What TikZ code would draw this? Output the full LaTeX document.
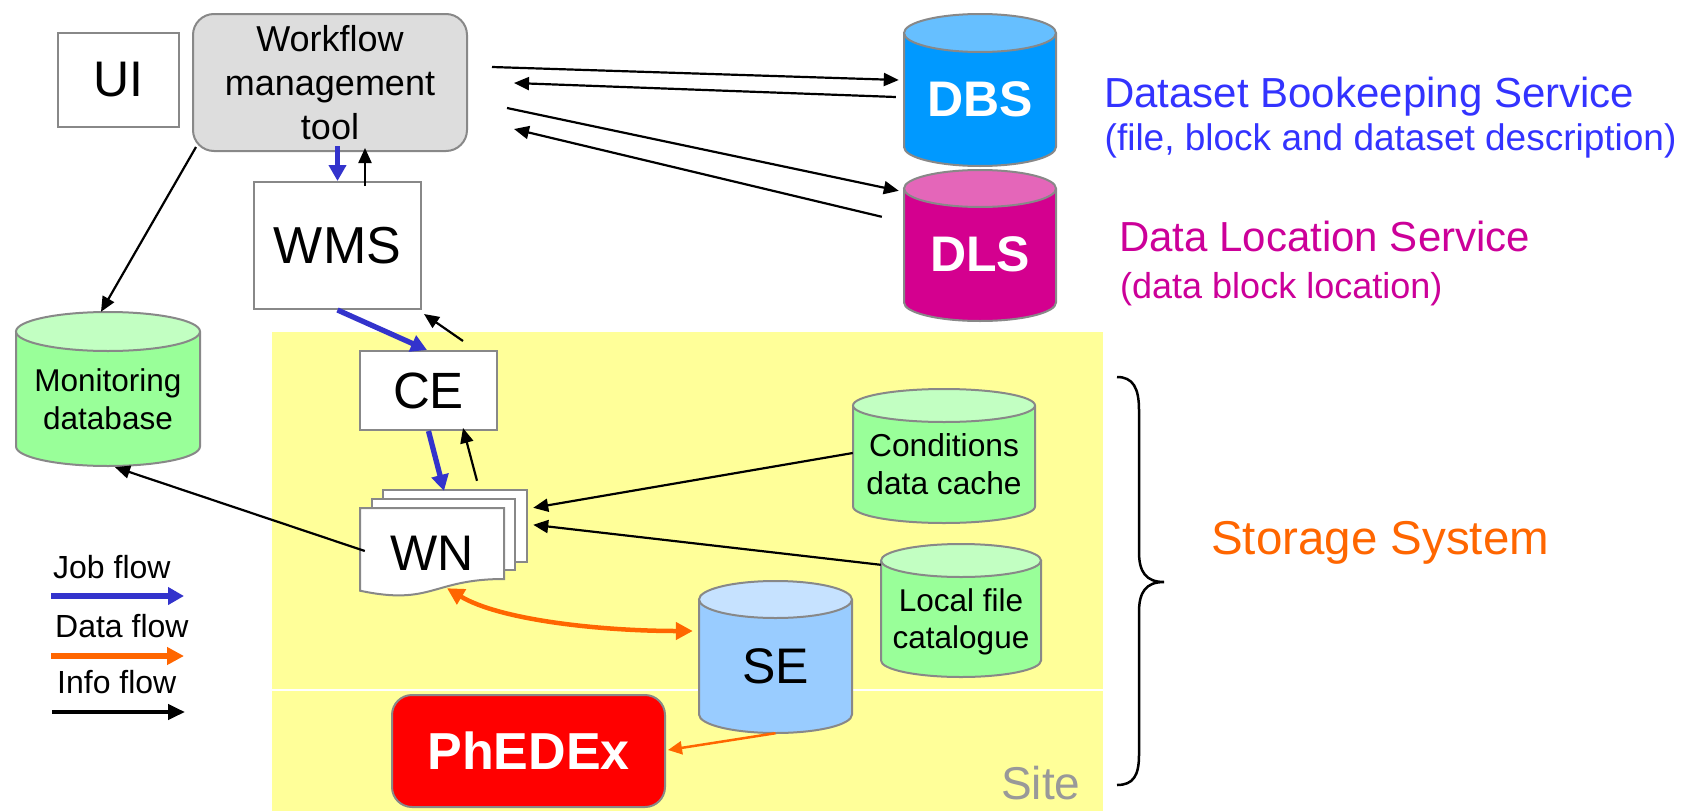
\documentclass[tikz,border=0pt]{standalone}
\usepackage{fontspec}
\setmainfont{Liberation Sans}
\usetikzlibrary{arrows.meta,calc}

\definecolor{jobblue}{HTML}{3333CC}
\definecolor{dataorange}{HTML}{FF6600}
\definecolor{siteyellow}{HTML}{FFFF99}
\definecolor{boxgray}{HTML}{888888}
\definecolor{wffill}{HTML}{DDDDDD}
\definecolor{greenbody}{HTML}{99FF99}
\definecolor{greentop}{HTML}{C2FFC2}
\definecolor{dbsbody}{HTML}{0099FF}
\definecolor{dbstop}{HTML}{66BFFF}
\definecolor{dlsbody}{HTML}{D4008F}
\definecolor{dlstop}{HTML}{E466B9}
\definecolor{sebody}{HTML}{99CCFF}
\definecolor{setop}{HTML}{C6E2FF}
\definecolor{dbstext}{HTML}{3333FF}
\definecolor{dlstext}{HTML}{CC0099}
\definecolor{sitegray}{HTML}{999999}

\newcommand{\txtsize}[2]{\fontsize{#1}{#2}\selectfont}

% database cylinder: name, left x, right x, top y, bottom y, end radius,
% colour prefix, node options, text
\newcommand{\dbcyl}[9]{%
  \pgfmathsetmacro{\cylcx}{(#2+#3)/2}%
  \pgfmathsetmacro{\cylrx}{(#3-#2)/2}%
  \pgfmathsetmacro{\cylyt}{#4+#6}%
  \pgfmathsetmacro{\cylyb}{#5-#6}%
  \pgfmathsetmacro{\cylcy}{(\cylyt+#5)/2}%
  \pgfmathsetmacro{\cylh}{#5-\cylyt}%
  \pgfmathsetmacro{\cylw}{#3-#2}%
  \fill[#7body] (#2,\cylyt) -- (#2,\cylyb)
    arc[start angle=180,end angle=360,x radius=\cylrx pt,y radius=#6 pt]
    -- (#3,\cylyt) -- cycle;
  \draw[outline] (#2,\cylyt) -- (#2,\cylyb)
    arc[start angle=180,end angle=360,x radius=\cylrx pt,y radius=#6 pt]
    -- (#3,\cylyt);
  \filldraw[outline, fill=#7top] (\cylcx,\cylyt) ellipse[x radius=\cylrx pt, y radius=#6 pt];
  \node[cylnode, minimum width=\cylw pt, minimum height=\cylh pt, #8] (#1) at (\cylcx,\cylcy) {#9};
}

\begin{document}
\begin{tikzpicture}[x=1pt, y=-1pt,
  outline/.style={draw=boxgray, line width=2pt},
  plainbox/.style={outline, fill=white, inner sep=0pt},
  cylnode/.style={inner sep=0pt, align=center},
  plaintext/.style={anchor=base west, inner sep=0pt},
  info/.style={draw=black, line width=2.2pt, -{Triangle[length=15pt,width=13pt]}},
  job/.style={draw=jobblue, line width=5.3pt, -{Triangle[length=16pt,width=17pt]}},
  data/.style={draw=dataorange, line width=4.5pt, -{Triangle[length=17pt,width=17pt]}},
  datathin/.style={draw=dataorange, line width=2.5pt, -{Triangle[length=14pt,width=13pt]}},
]
\useasboundingbox (0,0) rectangle (1686,811);
\fill[white] (0,0) rectangle (1686,811);

% site area
\fill[siteyellow] (272,332) rectangle (1103,811);
\draw[white, line width=1.2pt] (272,690) -- (1103,690);

% boxes
\node[plainbox, minimum width=121pt, minimum height=94pt, font=\txtsize{50}{60}] (ui) at (118.5,80) {UI};
\node[outline, fill=wffill, rounded corners=21pt, inner sep=0pt, minimum width=274pt, minimum height=137pt,
      align=center, font=\txtsize{36}{44}] (wf) at (330,82.5) {Workflow\\management\\tool};
\node[plainbox, minimum width=167pt, minimum height=127pt, font=\txtsize{52}{60}] (wms) at (337.5,245.5) {WMS};
\node[plainbox, minimum width=137pt, minimum height=79pt, font=\txtsize{51}{60}] (ce) at (428.5,390.5) {CE};
\node[outline, fill=red, rounded corners=20pt, inner sep=0pt, minimum width=273pt, minimum height=112pt,
      text=white, font=\txtsize{52}{60}\bfseries] (phedex) at (528.5,751) {PhEDEx};

% worker node stack
\filldraw[outline, fill=white] (383,490) rectangle (527,562);
\filldraw[outline, fill=white] (372,499) rectangle (515,570);
\filldraw[outline, fill=white] (360,508) -- (504,508) -- (504,579)
  .. controls (432,579) and (432,606) .. (360,590.7) -- cycle;
\node[inner sep=0pt, minimum width=144pt, minimum height=90pt, font=\txtsize{50}{60}] (wn) at (432,553) {WN};

% databases
\dbcyl{dbs}{904}{1056}{14}{166}{19}{dbs}{text=white, font=\txtsize{50}{60}\bfseries}{DBS}
\dbcyl{dls}{904}{1056}{170}{321}{18.5}{dls}{text=white, font=\txtsize{50}{60}\bfseries}{DLS}
\dbcyl{mon}{16}{200}{312}{466}{19.5}{green}{font=\txtsize{31.5}{38}}{Monitoring\\database}
\dbcyl{cond}{853}{1035}{389}{523}{16.5}{green}{font=\txtsize{31.7}{38}}{Conditions\\data cache}
\dbcyl{lfc}{881}{1041}{544}{677}{16.5}{green}{font=\txtsize{31.5}{37}, text depth=0pt}{Local file\\catalogue}
\dbcyl{se}{699}{852}{581}{733}{18.5}{se}{font=\txtsize{50}{60}}{SE}

% job flow
\draw[job] ($(wf.south)+(7.5,-6)$) -- (wms.north);
\draw[job] (wms.south) -- ($(ce.north)+(-1.5,0)$);
\draw[job] (ce.south) -- ($(wn.north)+(12,-17)$);

% info flow
\draw[info] ($(wms.north)+(27.5,5)$) -- ($(wf.south)+(35,-4)$);
\draw[info] ($(ce.north)+(34.5,-9)$) -- ($(wms.south east)+(2,4)$);
\draw[info] ($(wn.north)+(45,-27)$) -- ($(ce.south)+(34.5,-3)$);
\draw[info] ($(wf.east)+(24,-15.5)$) -- ($(dbs.west)+(-5,-19.5)$);
\draw[info] ($(dbs.west)+(-8,-2.5)$) -- ($(wf.east)+(46,0.5)$);
\draw[info] ($(wf.east)+(39,25.5)$) -- ($(dls.north west)+(-5,2.5)$);
\draw[info] ($(dls.north west)+(-22,28.5)$) -- ($(wf.east)+(46,46.5)$);
\draw[info] ($(wf.south west)+(4,-5)$) -- ($(mon.north)+(-7,-19.5)$);
\draw[info] ($(wn.west)+(5,-2)$) -- ($(mon.south)+(7,1)$);
\draw[info] ($(cond.west)+(0,-11.25)$) -- ($(wn.north east)+(29,0)$);
\draw[info] ($(lfc.north west)+(0,4.5)$) -- ($(wn.north east)+(29,17)$);

% data flow
\draw[data, {Triangle[length=17pt,width=17pt]}-{Triangle[length=17pt,width=17pt]}]
  ($(wn.south)+(15,-10)$) .. controls (500,620) and (600,631) .. ($(se.west)+(-6,-35.25)$);
\draw[datathin] (se.south) -- ($(phedex.east)+(2,-1)$);

% service descriptions
\node[plaintext, text=dbstext, font=\txtsize{42}{50}] (dbslabel) at (1104,107) {Dataset Bookeeping Service};
\node[plaintext, text=dbstext, font=\txtsize{37}{44}] (dbsnote) at (1104.5,150) {(file, block and dataset description)};
\node[plaintext, text=dlstext, font=\txtsize{42}{50}] (dlslabel) at (1119,251) {Data Location Service};
\node[plaintext, text=dlstext, font=\txtsize{36}{44}] (dlsnote) at (1120,298) {(data block location)};

% storage system brace
\draw[line width=2.5pt] (1117,377) .. controls (1133,377) and (1139,388) .. (1139,410)
  -- (1139,552) .. controls (1139,572) and (1146,582) .. (1164,582)
  .. controls (1146,582) and (1139,592) .. (1139,612)
  -- (1139,755) .. controls (1139,776) and (1133,785) .. (1117,785);
\node[plaintext, text=dataorange, font=\txtsize{47.5}{56}] (storage) at (1211,554) {Storage System};
\node[plaintext, text=sitegray, font=\txtsize{46}{54}] (site) at (1001,799) {Site};

% legend
\node[plaintext, font=\txtsize{32}{38}] (legjob) at (53,578) {Job flow};
\node[plaintext, font=\txtsize{32}{38}] (legdata) at (55,637) {Data flow};
\node[plaintext, font=\txtsize{32}{38}] (leginfo) at (57,693) {Info flow};
\coordinate (jobA) at (51,596);
\coordinate (jobB) at (184,596);
\coordinate (dataA) at (51,656);
\coordinate (dataB) at (184,656);
\coordinate (infoA) at (52,712);
\coordinate (infoB) at (185,712);
\draw[job] (jobA) -- (jobB);
\draw[data, line width=5.3pt] (dataA) -- (dataB);
\draw[info, line width=4pt, -{Triangle[length=17pt,width=15pt]}] (infoA) -- (infoB);
\end{tikzpicture}
\end{document}
